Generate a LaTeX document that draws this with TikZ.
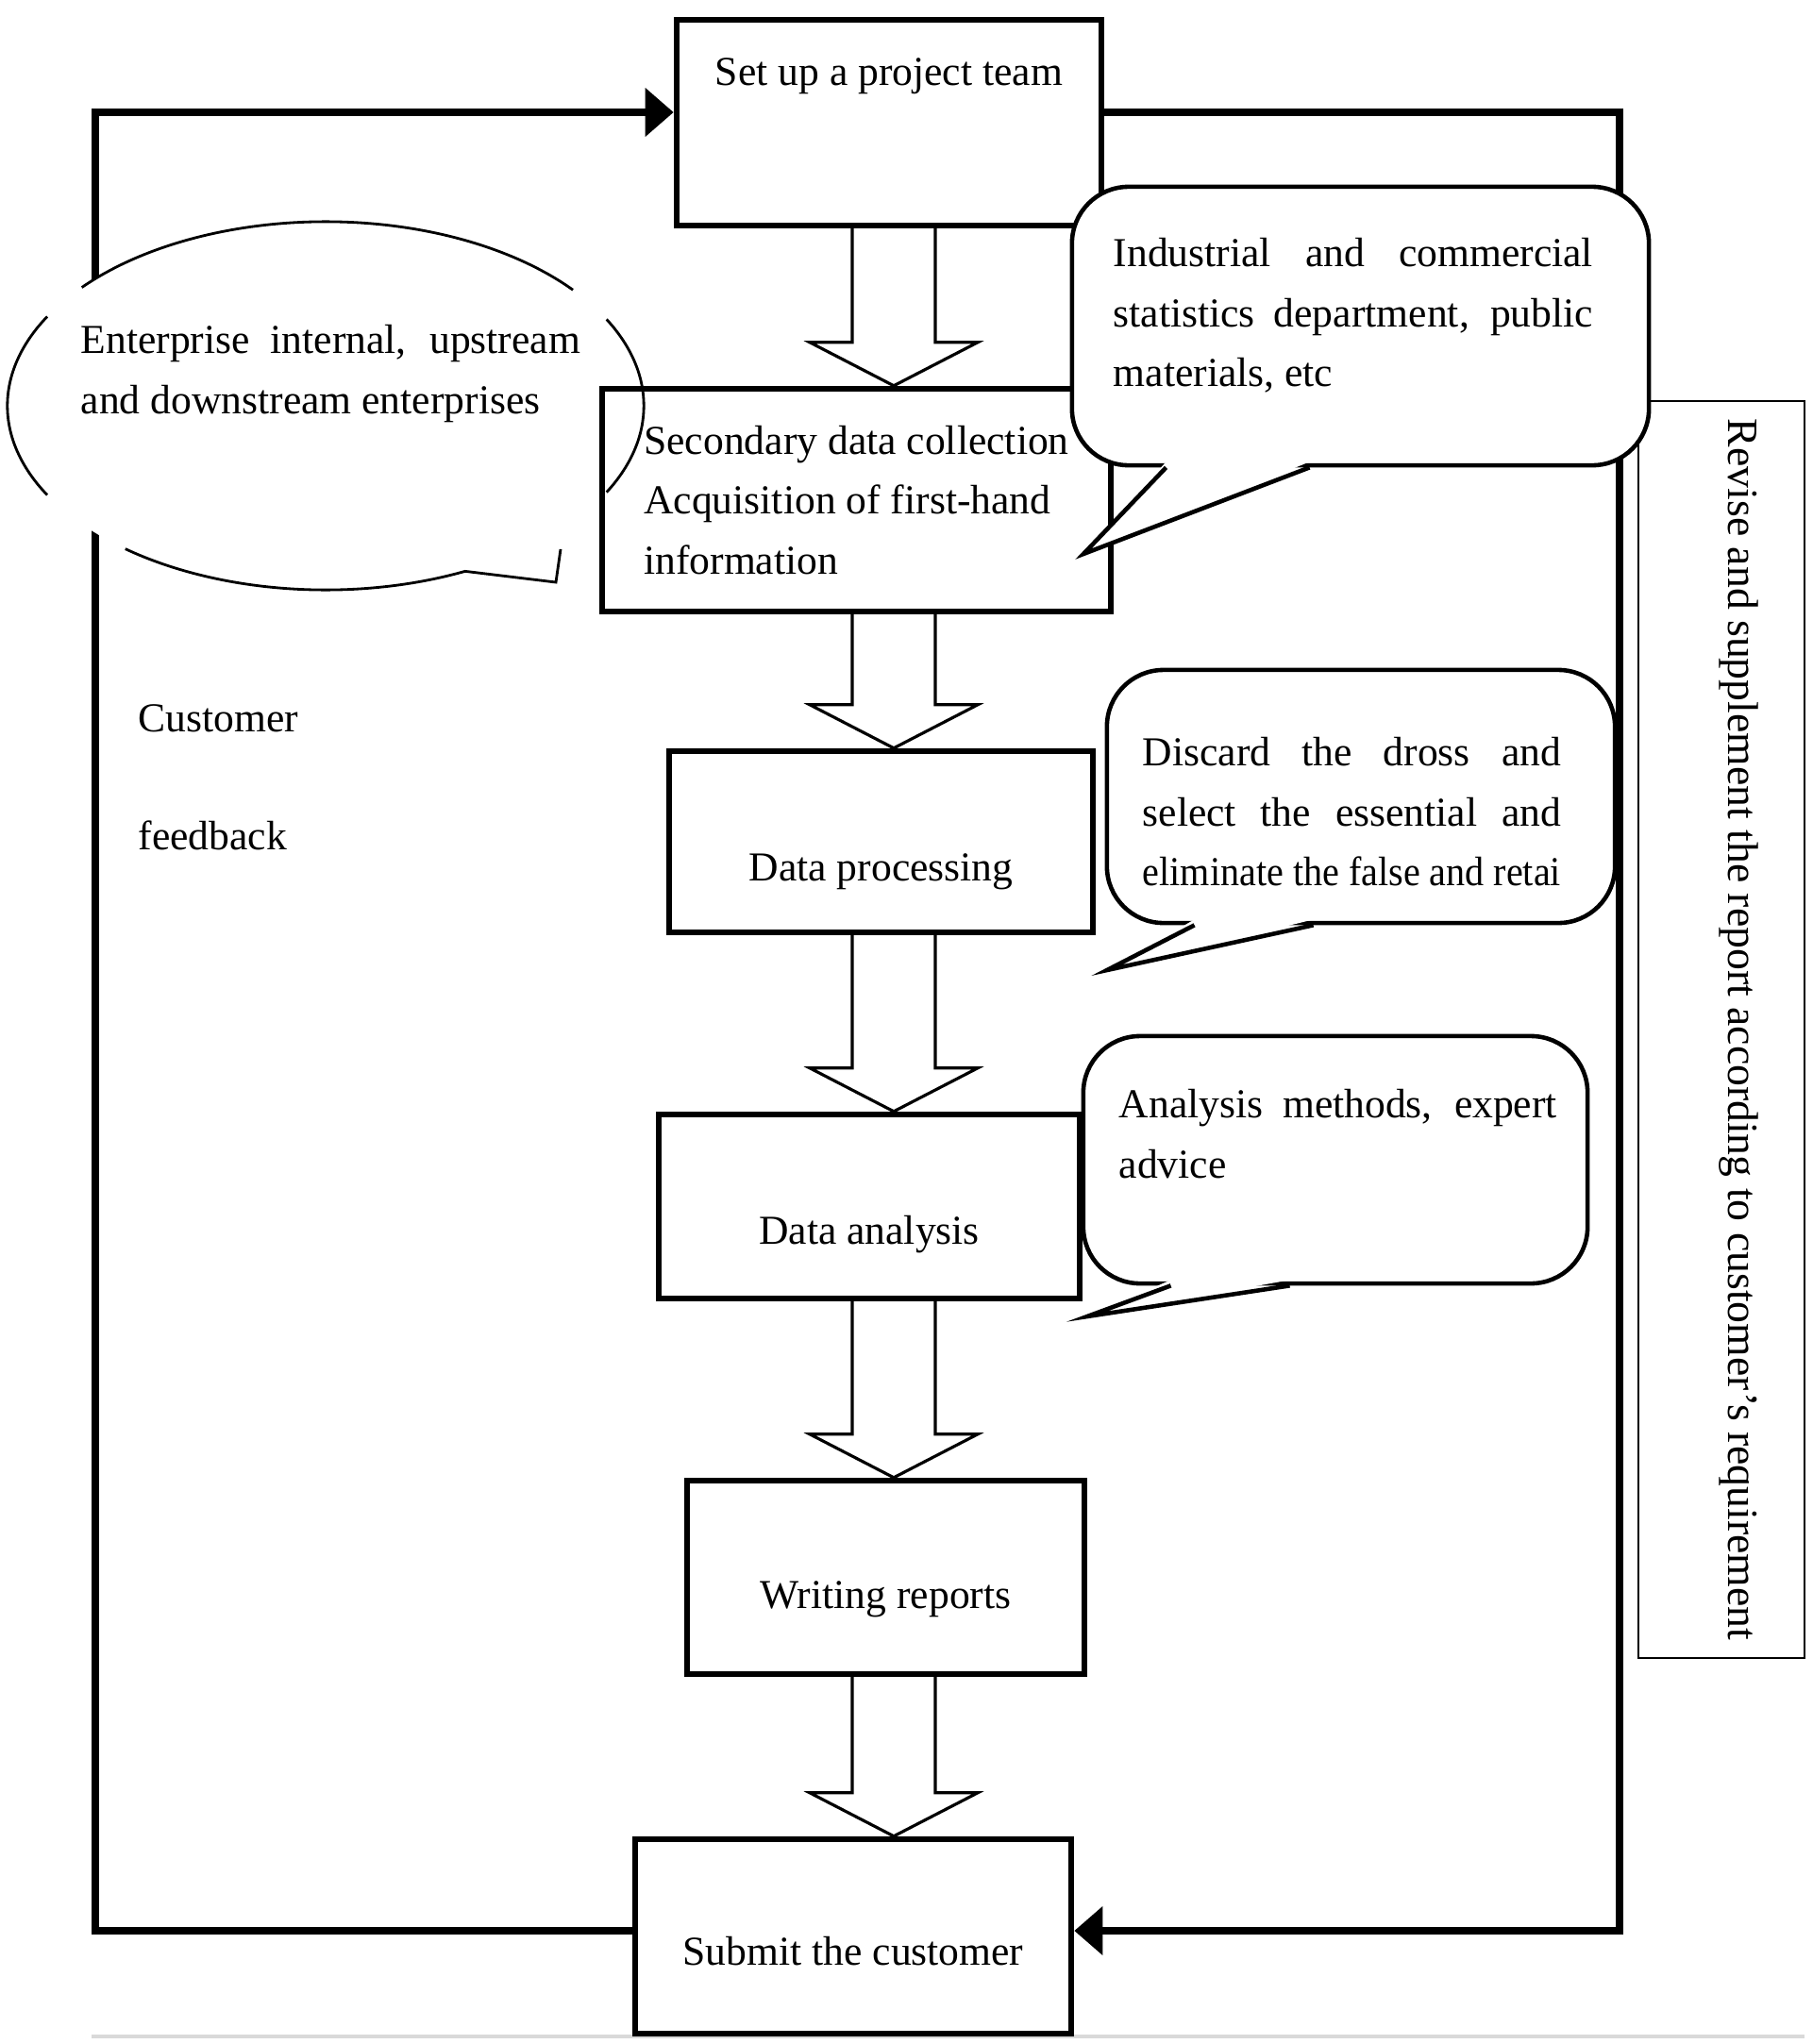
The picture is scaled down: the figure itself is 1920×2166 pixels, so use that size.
\documentclass[tikz,border=0pt]{standalone}
\usepackage{fontspec}
\setmainfont{Liberation Serif}
\usetikzlibrary{arrows.meta,calc}
\hyphenpenalty=10000
\tolerance=10000

\tikzset{
  stage/.style={draw, line width=1.8pt, inner sep=0pt},
  hollow/.style={line width=0.9pt, line join=miter},
  feedback/.style={line width=2.4pt, -{Triangle[length=0.3cm,width=0.5cm]}},
  bubble/.style={draw, fill=white, line width=1.3pt, rounded corners=0.6cm, inner sep=0pt},
  tail/.style={line width=1.3pt, line join=miter},
  rim/.style={line width=0.8pt},
  note/.style={inner sep=0pt, text width=#1, align=justify, anchor=north west},
}

% pointer under a speech bubble: bubble, left base, right base, tip
\newcommand{\bubbletail}[4]{%
  \fill[white] ([shift={(#2,-6)}]#1.south west) -- (#4) -- ([shift={(#3,-6)}]#1.south west) -- cycle;
  \draw[tail] ([shift={(#2,0)}]#1.south west) -- (#4) -- ([shift={(#3,0)}]#1.south west);}

\begin{document}
\begin{tikzpicture}[x=0.01cm, y=-0.01cm, font=\fontsize{12.4pt}{18pt}\selectfont]
\useasboundingbox (0,0) rectangle (1920,2166);

\draw[gray!30, line width=1pt] (97,2158) -- (1912,2158);

% feedback loop
\coordinate (fbTL) at (101,119);
\coordinate (fbTR) at (1716,119);
\coordinate (fbBL) at (101,2046);
\coordinate (fbBR) at (1716,2046);

% stages
\node[stage, minimum width=4.5cm, minimum height=2.18cm, text height=0.70cm, text depth=1.48cm] (team) at (942,130) {Set up a project team};
\node[stage, minimum width=4.49cm, minimum height=1.92cm, text height=1.37cm, text depth=0.55cm] (proc) at (933.5,892) {Data processing};
\node[stage, minimum width=4.46cm, minimum height=1.95cm, text height=1.37cm, text depth=0.58cm] (ana) at (921,1278.5) {Data analysis};
\node[stage, minimum width=4.21cm, minimum height=2.05cm, text height=1.35cm, text depth=0.70cm] (write) at (938.5,1671.5) {Writing reports};
\node[stage, minimum width=4.62cm, minimum height=2.06cm, text height=1.33cm, text depth=0.73cm] (submit) at (904,2052) {Submit the customer};

\draw[feedback] (fbBL -| submit.west) -- (fbBL) -- (fbTL) -- (fbTL -| team.west);
\draw[feedback] (fbTR -| team.east) -- (fbTR) -- (fbBR) -- (fbBR -| submit.east);

% sources of first-hand data
\coordinate (ell) at (345,430);
\fill[white] (ell) ellipse [x radius=3.37cm, y radius=1.95cm];
\foreach \p/\q in {140/39, 151/209, -28/28}
  \draw[rim] ([shift={(\p:3.37cm and 1.95cm)}]ell) arc[start angle=\p, end angle=\q, x radius=3.37cm, y radius=1.95cm];
\draw[rim] ([shift={(231:3.37cm and 1.95cm)}]ell) arc[start angle=231, end angle=296, x radius=3.37cm, y radius=1.95cm] -- (589,617) -- (594,582);
\node[note=5.29cm] (inside-t) at (85,344) {Enterprise internal, upstream\linebreak and downstream enterprises};

\node[stage, minimum width=5.39cm, minimum height=2.36cm, align=left] (collect) at (907.5,530) {Secondary data collection\\Acquisition of first-hand\\information};

% hollow arrows down the middle
\coordinate (spine) at (947,0);
\foreach \src/\dst in {team/collect, collect/proc, proc/ana, ana/write, write/submit}
  \draw[hollow] ($(\src.south -| spine)+(-44,0)$) -- ($(\dst.north -| spine)+(-44,-46)$) -- ++(-45,0)
    -- (\dst.north -| spine) -- ($(\dst.north -| spine)+(89,-46)$) -- ++(-45,0) -- ($(\src.south -| spine)+(44,0)$);

% revision note on the right
\node[draw, line width=0.6pt, rotate=-90, minimum width=13.32cm, minimum height=1.76cm, inner sep=0pt,
      text height=0.81cm, text depth=0.95cm, font=\fontsize{13pt}{15pt}\selectfont] (revise) at (1824,1091)
      {Revise and supplement the report according to customer’s requirement};

% speech bubbles
\coordinate (tip1) at (1148,587);
\coordinate (tip2) at (1173,1028);
\coordinate (tip3) at (1152,1395);

\node[bubble, minimum width=6.11cm, minimum height=2.95cm] (src) at (1441.5,345.5) {};
\bubbletail{src}{102}{254}{tip1}
\node[note=5.08cm] (src-t) at (1179,252) {Industrial and commercial\linebreak statistics department, public\linebreak materials, etc};

\node[bubble, minimum width=5.38cm, minimum height=2.68cm] (clean) at (1442,844) {};
\bubbletail{clean}{95}{221}{tip2}
\node[note=4.43cm] (clean-t) at (1210,781) {Discard the dross and\linebreak select the essential and\linebreak \resizebox{4.43cm}{\height}{eliminate the false and retai}};

\node[bubble, minimum width=5.34cm, minimum height=2.62cm] (method) at (1415,1229) {};
\bubbletail{method}{95}{221}{tip3}
\node[note=4.64cm] (method-t) at (1185,1154) {Analysis methods, expert\linebreak advice};

% loop label
\node[anchor=west, inner sep=0pt] (cust) at (146,761) {Customer};
\node[anchor=west, inner sep=0pt] (fb) at (146,885) {feedback};
\end{tikzpicture}
\end{document}
